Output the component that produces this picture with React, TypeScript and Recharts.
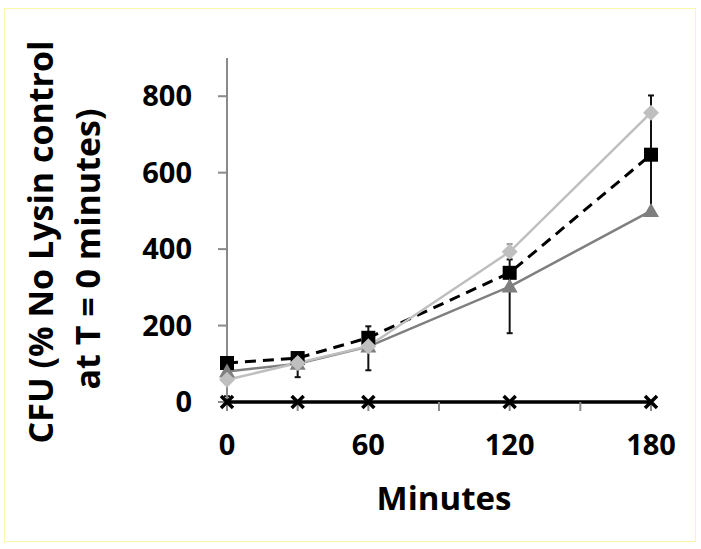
import React from "react"
import { LineChart, Line, XAxis, YAxis, ErrorBar } from "recharts"

// Values
const minutes = [0, 30, 60, 120, 180]
const squareValues = [102, 115, 168, 338, 647]
const squareErrLow = [87, 50, 85, 158, 145]
const squareErrHigh = [0, 0, 30, 35, 155]
const triangleValues = [80, 100, 145, 302, 500]
const diamondValues = [58, 102, 146, 393, 757]
const diamondErrHigh = [0, 0, 0, 20, 0]
const zeroValues = [0, 0, 0, 0, 0]

const xTicks = [0, 30, 60, 90, 120, 150, 180]
const xTickLabels = ["0", "", "60", "", "120", "", "180"]
const yTicks = [0, 200, 400, 600, 800]

const data = minutes.map((m, i) => ({
  min: m,
  square: squareValues[i],
  squareErr: [squareErrLow[i], squareErrHigh[i]],
  triangle: triangleValues[i],
  diamond: diamondValues[i],
  diamondErr: [0, diamondErrHigh[i]],
  zero: zeroValues[i],
}))

const FONT = "'Open Sans', sans-serif"
const AXIS_GREY = "#8a8a8a"

const SquareDot = (props: any) => {
  const { cx, cy, index } = props
  return <rect key={`sq-${index}`} x={cx - 7} y={cy - 7} width={14} height={14} fill="#000" />
}

const TriangleDot = (props: any) => {
  const { cx, cy, index } = props
  return <path key={`tr-${index}`} d={`M${cx},${cy - 8} L${cx + 8},${cy + 6} L${cx - 8},${cy + 6} Z`} fill="#7f7f7f" />
}

const DiamondDot = (props: any) => {
  const { cx, cy, index } = props
  return <path key={`dm-${index}`} d={`M${cx},${cy - 8} L${cx + 8},${cy} L${cx},${cy + 8} L${cx - 8},${cy} Z`} fill="#bfbfbf" />
}

const CrossDot = (props: any) => {
  const { cx, cy, index } = props
  return (
    <path
      key={`x-${index}`}
      d={`M${cx - 6},${cy - 6} L${cx + 6},${cy + 6} M${cx + 6},${cy - 6} L${cx - 6},${cy + 6}`}
      stroke="#000"
      strokeWidth={3.5}
    />
  )
}

const XTick = (props: any) => {
  const { x, y, index } = props
  return (
    <text x={x} y={y + 42} textAnchor="middle" fontFamily={FONT} fontWeight={700} fontSize={29} fill="#000">
      {xTickLabels[index]}
    </text>
  )
}

const YTick = (props: any) => {
  const { x, y, payload } = props
  return (
    <text x={x - 24} y={y + 10} textAnchor="end" fontFamily={FONT} fontWeight={700} fontSize={29} fill="#000">
      {payload.value}
    </text>
  )
}

const YLabel = () => (
  <g fontFamily={FONT} fontWeight={700} fontSize={34} fill="#000">
    <text transform="translate(53,242) rotate(-90)" textAnchor="middle">
      CFU (% No Lysin control
    </text>
    <text transform="translate(100,249) rotate(-90)" textAnchor="middle">
      at T = 0 minutes)
    </text>
  </g>
)

const XLabel = () => (
  <text x={444} y={510} textAnchor="middle" fontFamily={FONT} fontWeight={700} fontSize={33} fill="#000">
    Minutes
  </text>
)

export default function App() {
  return (
    <div style={{ position: "absolute", top: 0, left: 0, width: 701, height: 549, background: "#fff" }}>
      <div
        style={{
          position: "absolute",
          left: 4,
          top: 8,
          width: 692,
          height: 534,
          border: "1px solid #fbf7a8",
          boxSizing: "border-box",
        }}
      />
      <LineChart
        width={701}
        height={549}
        data={data}
        margin={{ top: 58, right: 50, left: 147, bottom: 87 }}
        style={{ position: "absolute", top: 0, left: 0 }}
      >
        <XAxis
          type="number"
          dataKey="min"
          domain={[0, 180]}
          ticks={xTicks}
          interval={0}
          height={60}
          axisLine={{ stroke: "#000", strokeWidth: 3 }}
          tickLine={{ stroke: AXIS_GREY, strokeWidth: 2 }}
          tickSize={9}
          tick={<XTick />}
          label={{ content: <XLabel /> }}
        />
        <YAxis
          type="number"
          domain={[0, 900]}
          ticks={yTicks}
          interval={0}
          width={80}
          stroke={AXIS_GREY}
          strokeWidth={2}
          tickSize={9}
          tick={<YTick />}
          label={{ content: <YLabel /> }}
        />
        <Line
          dataKey="zero"
          stroke="#000"
          strokeWidth={3}
          dot={CrossDot}
          activeDot={false}
          isAnimationActive={false}
        />
        <Line
          dataKey="square"
          stroke="#000"
          strokeWidth={3}
          strokeDasharray="11 7"
          dot={SquareDot}
          activeDot={false}
          isAnimationActive={false}
        >
          <ErrorBar dataKey="squareErr" direction="y" width={3} stroke="#111" strokeWidth={2} isAnimationActive={false} />
        </Line>
        <Line
          dataKey="triangle"
          stroke="#7f7f7f"
          strokeWidth={2.5}
          dot={TriangleDot}
          activeDot={false}
          isAnimationActive={false}
        />
        <Line
          dataKey="diamond"
          stroke="#bfbfbf"
          strokeWidth={2.5}
          dot={DiamondDot}
          activeDot={false}
          isAnimationActive={false}
        >
          <ErrorBar dataKey="diamondErr" direction="y" width={3} stroke="#999" strokeWidth={2} isAnimationActive={false} />
        </Line>
      </LineChart>
    </div>
  )
}
